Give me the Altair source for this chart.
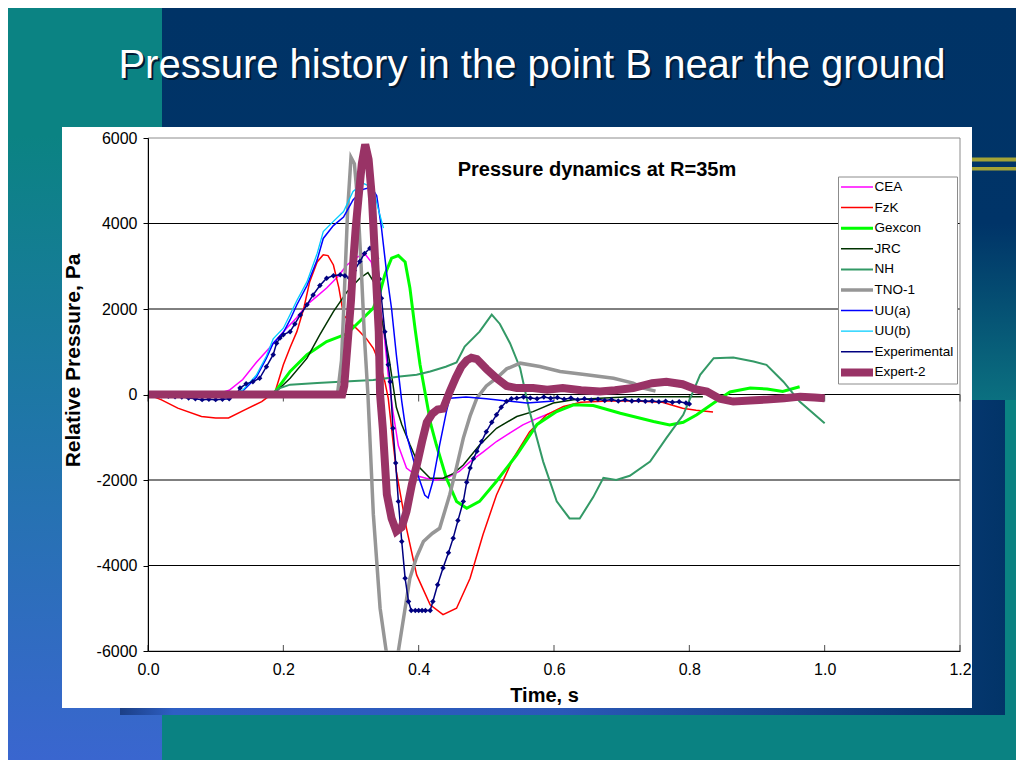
import altair as alt
import pandas as pd

# ---------------- layout constants (pixels, relative to plot origin) -------------
PLOT_W, PLOT_H = 812, 513
PAD = {"left": 140, "top": 130, "right": 56, "bottom": 109}
FONT = "Liberation Sans, Arial, Helvetica, sans-serif"

# ---------------- data ----------------
series_names = ["CEA", "FzK", "Gexcon", "JRC", "NH", "TNO-1", "UU(a)", "UU(b)",
                "Experimental", "Expert-2"]
series_colors = ["#ff00ff", "#ff0000", "#00ff00", "#003300", "#339966", "#969696",
                 "#0000ff", "#00ccff", "#000080", "#993366"]
series_widths = [1.5, 1.5, 3, 1.5, 2, 3.5, 1.5, 1.3, 1.5, 8]

x_ticks = [0.0, 0.2, 0.4, 0.6, 0.8, 1.0, 1.2]
y_ticks = [-6000, -4000, -2000, 0, 2000, 4000, 6000]
grid_values = [-4000, -2000, 0, 2000, 4000]

t_cea = [0.0, 0.10, 0.12, 0.14, 0.16, 0.18, 0.20, 0.22, 0.235, 0.25, 0.264, 0.28, 0.294, 0.308,
         0.32, 0.33, 0.34, 0.348, 0.355, 0.362, 0.37, 0.382, 0.397, 0.411, 0.426, 0.441, 0.46,
         0.476, 0.495, 0.515, 0.535, 0.554, 0.575, 0.594]
v_cea = [0, 0, 100, 350, 750, 1100, 1470, 1800, 2100, 2300, 2490, 2750, 3030, 3200,
         3300, 3100, 2400, 1550, 460, -400, -1200, -1720, -1900, -1960, -2000, -1960, -1800,
         -1570, -1350, -1100, -900, -710, -560, -440]

t_fzk = [0.0, 0.02, 0.044, 0.079, 0.10, 0.119, 0.143, 0.168, 0.178, 0.188,
         0.20, 0.21, 0.22, 0.23, 0.239, 0.25, 0.259, 0.266, 0.274, 0.282,
         0.289, 0.298, 0.313, 0.323, 0.333, 0.343, 0.35, 0.355, 0.367, 0.382,
         0.397, 0.417, 0.436, 0.456, 0.476, 0.495, 0.515, 0.54, 0.564, 0.589,
         0.614, 0.64, 0.68, 0.72, 0.76, 0.79, 0.81, 0.835]
v_fzk = [0, -125, -320, -515, -550, -550, -360, -165, -50, 70,
         695, 1100, 1470, 2000, 2640, 3100, 3270, 3250, 3030, 2500,
         1860, 1700, 1470, 1300, 1080, 695, 300, -85, -1800, -3130,
         -4220, -4920, -5150, -5000, -4300, -3280, -2350, -1490, -870, -475,
         -280, -180, -150, -150, -180, -320, -370, -410]

t_gex = [0.0, 0.185, 0.21, 0.235, 0.264, 0.294, 0.318, 0.333, 0.343, 0.35,
         0.36, 0.37, 0.38, 0.387, 0.395, 0.402, 0.41, 0.418, 0.426, 0.441,
         0.456, 0.471, 0.49, 0.515, 0.545, 0.575, 0.604, 0.629, 0.658, 0.698,
         0.747, 0.771, 0.791, 0.811, 0.836, 0.86, 0.89, 0.915, 0.938, 0.963]
v_gex = [0, 0, 540, 930, 1240, 1420, 1790, 2020, 2400, 2800,
         3190, 3250, 3100, 2500, 1500, 700, 0, -700, -1170, -1960,
         -2500, -2660, -2500, -2030, -1410, -700, -400, -240, -260, -440,
         -630, -710, -650, -475, -200, 60, 150, 130, 70, 180]

t_jrc = [0.0, 0.185, 0.21, 0.235, 0.254, 0.274, 0.294, 0.313, 0.325, 0.335,
         0.348, 0.357, 0.367, 0.375, 0.387, 0.402, 0.417, 0.436, 0.451, 0.466,
         0.49, 0.515, 0.545, 0.569, 0.599, 0.629, 0.668, 0.712, 0.76, 0.82]
v_jrc = [0, 0, 380, 850, 1400, 1940, 2400, 2720, 2850, 2600,
         1550, 770, -300, -700, -1170, -1720, -1960, -1960, -1850, -1650,
         -1180, -790, -515, -400, -200, -125, -85, -50, -50, -50]

t_nh = [0.0, 0.18, 0.195, 0.21, 0.25, 0.284, 0.333, 0.372, 0.397, 0.417,
        0.44, 0.456, 0.468, 0.49, 0.508, 0.52, 0.535, 0.55, 0.564, 0.584,
        0.604, 0.623, 0.638, 0.658, 0.673, 0.692, 0.712, 0.742, 0.766, 0.791,
        0.816, 0.836, 0.865, 0.895, 0.914, 0.939, 0.963, 1.0]
v_nh = [0, 0, 150, 230, 270, 300, 340, 420, 460, 540,
        650, 750, 1120, 1470, 1870, 1650, 1200, 615, -400, -1570,
        -2500, -2900, -2900, -2400, -1950, -2000, -1900, -1570, -1020, -475,
        460, 850, 865, 770, 695, 300, -165, -670]

t_tno = [0.0, 0.28, 0.286, 0.29, 0.295, 0.30, 0.305, 0.31, 0.315, 0.32,
         0.325, 0.333, 0.343, 0.352, 0.362, 0.37, 0.378, 0.387, 0.397, 0.407,
         0.42, 0.431, 0.446, 0.456, 0.466, 0.476, 0.486, 0.50, 0.515, 0.53,
         0.55, 0.579, 0.609, 0.648, 0.688, 0.717, 0.732, 0.75]
v_tno = [0, 0, 800, 2300, 4300, 5550, 5400, 4500, 3000, 1300,
         0, -2800, -5000, -6000, -6400, -6000, -5200, -4300, -3800, -3440,
         -3250, -3130, -2340, -1700, -1020, -500, -85, 200, 380, 600,
         733, 655, 540, 460, 380, 265, 150, 80]

t_uua = [0.0, 0.12, 0.14, 0.16, 0.175, 0.185, 0.20, 0.21, 0.22, 0.235,
         0.25, 0.259, 0.274, 0.289, 0.303, 0.318, 0.33, 0.338, 0.345, 0.353,
         0.36, 0.367, 0.375, 0.382, 0.397, 0.409, 0.414, 0.421, 0.431, 0.441,
         0.446, 0.47, 0.50, 0.53, 0.56, 0.60]
v_uua = [0, 0, 80, 400, 850, 1200, 1450, 1750, 2100, 2550,
         3150, 3650, 3950, 4150, 4550, 4800, 4850, 4650, 3900, 2800,
         2000, 930, -160, -940, -1800, -2350, -2420, -2030, -1180, -400,
         -85, -60, -100, -150, -200, -150]

t_uub = [0.0, 0.12, 0.14, 0.16, 0.175, 0.185, 0.20, 0.21, 0.22, 0.235,
         0.25, 0.259, 0.274, 0.289, 0.303, 0.318, 0.333, 0.34, 0.348]
v_uub = [0, 0, 100, 450, 900, 1300, 1550, 1870, 2200, 2640,
         3300, 3810, 4050, 4280, 4750, 4940, 4830, 4360, 3890]

t_exp = [0.0, 0.01, 0.02, 0.03, 0.04, 0.05, 0.06, 0.07, 0.08, 0.09,
         0.10, 0.11, 0.12, 0.13, 0.136, 0.145, 0.155, 0.165, 0.175, 0.185,
         0.19, 0.195, 0.20, 0.21, 0.217, 0.225, 0.235, 0.244, 0.254, 0.264,
         0.274, 0.284, 0.291, 0.298, 0.305, 0.313, 0.32, 0.328, 0.333, 0.338,
         0.342, 0.345, 0.35, 0.355, 0.358, 0.362, 0.366, 0.37, 0.375, 0.38,
         0.385, 0.389, 0.395, 0.40, 0.405, 0.41, 0.417, 0.421, 0.428, 0.436,
         0.444, 0.451, 0.458, 0.466, 0.471, 0.476, 0.481, 0.486, 0.493, 0.50,
         0.508, 0.515, 0.522, 0.53, 0.537, 0.545, 0.555, 0.565, 0.575, 0.585,
         0.595, 0.605, 0.615, 0.625, 0.635, 0.645, 0.655, 0.665, 0.675, 0.685,
         0.695, 0.705, 0.715, 0.725, 0.735, 0.745, 0.755, 0.765, 0.775, 0.785,
         0.795, 0.80]
v_exp = [0, -20, -30, -40, -50, -60, -80, -100, -120, -110,
         -120, -110, -100, -20, 150, 250, 300, 380, 650, 930,
         1200, 1320, 1400, 1470, 1650, 1860, 2100, 2330, 2550, 2720,
         2780, 2800, 2780, 2720, 2900, 3110, 3300, 3420, 3350, 3190,
         2700, 2250, 1470, 695, 300, -790, -1600, -2500, -3440, -4300,
         -4840, -5050, -5050, -5050, -5050, -5050, -5050, -4840, -4450, -4060,
         -3700, -3360, -2950, -2500, -2050, -1720, -1500, -1330, -1100, -870,
         -650, -475, -300, -160, -100, -85, -60, -80, -100, -60,
         -90, -70, -110, -80, -120, -100, -130, -110, -140, -120,
         -150, -130, -150, -140, -160, -150, -170, -160, -180, -170,
         -200, -220]

t_ex2 = [0.0, 0.10, 0.20, 0.287, 0.29, 0.295, 0.30, 0.303, 0.307, 0.311,
         0.316, 0.321, 0.326, 0.331, 0.336, 0.341, 0.343, 0.347, 0.353, 0.36,
         0.367, 0.375, 0.382, 0.39, 0.398, 0.405, 0.412, 0.42, 0.428, 0.436,
         0.446, 0.455, 0.463, 0.471, 0.478, 0.486, 0.50, 0.515, 0.53, 0.545,
         0.569, 0.59, 0.613, 0.64, 0.668, 0.69, 0.717, 0.745, 0.766, 0.79,
         0.81, 0.826, 0.845, 0.865, 0.89, 0.914, 0.94, 0.964, 0.985, 1.0]
v_ex2 = [0, 0, 0, 0, 200, 1200, 2200, 3030, 3900, 4590,
         5400, 5850, 5500, 4590, 3030, 1470, 0, -790, -2340, -2900,
         -3200, -3100, -2740, -2100, -1600, -1100, -650, -450, -350, -330,
         70, 400, 650, 800, 860, 830, 600, 380, 200, 150,
         150, 110, 150, 100, 70, 100, 150, 265, 300, 240,
         120, 70, -100, -165, -140, -120, -90, -50, -70, -85]

series_data = {
    "CEA": (t_cea, v_cea), "FzK": (t_fzk, v_fzk), "Gexcon": (t_gex, v_gex),
    "JRC": (t_jrc, v_jrc), "NH": (t_nh, v_nh), "TNO-1": (t_tno, v_tno),
    "UU(a)": (t_uua, v_uua), "UU(b)": (t_uub, v_uub),
    "Experimental": (t_exp, v_exp), "Expert-2": (t_ex2, v_ex2),
}

rows = []
for name in series_names:
    ts, vs = series_data[name]
    assert len(ts) == len(vs), name
    for t, v in zip(ts, vs):
        rows.append({"t": t, "p": v, "series": name})
df = pd.DataFrame(rows)
df_lines = df[df.series != "Expert-2"]
df_exp = df[df.series == "Experimental"]
df_ex2 = df[df.series == "Expert-2"]
one = pd.DataFrame({"k": [0]})

# ---------------- encodings ----------------
x_axis = alt.Axis(values=x_ticks, format=".1f", title="Time, s", grid=False, zindex=1,
                  domainColor="black", ticks=False, labelFlush=False,
                  labelFont=FONT, labelFontSize=16, labelColor="black", labelPadding=10,
                  titleFont=FONT, titleFontSize=20, titleFontWeight="bold", titleColor="black",
                  titleX=396, titleY=50, titleBaseline="alphabetic", titleAlign="center")
y_axis = alt.Axis(values=y_ticks, labelExpr="'' + datum.value", title="Relative Pressure, Pa",
                  grid=False, zindex=1, domainColor="black", tickColor="black", tickSize=5,
                  labelFont=FONT, labelFontSize=16, labelColor="black", labelPadding=6,
                  titleFont=FONT, titleFontSize=21, titleFontWeight="bold", titleColor="black",
                  titleAngle=270, titleX=-69, titleY=222, titleBaseline="alphabetic",
                  titleAlign="center")
X = alt.X("t:Q", scale=alt.Scale(domain=[0, 1.2], nice=False), axis=x_axis)
Y = alt.Y("p:Q", scale=alt.Scale(domain=[-6000, 6000], nice=False), axis=y_axis)

legend_def = alt.Legend(title=None, orient="none", legendX=690, legendY=38.5,
                        direction="vertical", padding=3, rowPadding=5.6, clipHeight=15,
                        symbolType="M-4,0H4", symbolSize=64, symbolOffset=8, labelOffset=9.5,
                        labelFont=FONT, labelFontSize=13.5, labelColor="black",
                        strokeColor="#8c8c8c", fillColor="white")
C = alt.Color("series:N", scale=alt.Scale(domain=series_names, range=series_colors),
              legend=legend_def)
SW = alt.StrokeWidth("series:N",
                     scale=alt.Scale(type="ordinal", domain=series_names, range=series_widths),
                     legend=legend_def)


def grad(stops, vertical=True):
    return alt.LinearGradient(
        gradient="linear",
        stops=[alt.GradientStop(offset=o, color=c) for o, c in stops],
        x1=0, y1=0, x2=0 if vertical else 1, y2=1 if vertical else 0)


def box(x, x2, y, y2, **mark):
    return alt.Chart(one).mark_rect(**mark).encode(
        x=alt.value(x), x2=alt.value(x2), y=alt.value(y), y2=alt.value(y2))


def label(text, x, y, **mark):
    return alt.Chart(one).mark_text(text=text, **mark).encode(x=alt.value(x), y=alt.value(y))


# ---------------- slide decorations ----------------
left_strip = box(-140, 14, -130, 622,
                 color=grad([(0, "#0b8383"), (0.17, "#0b8383"), (0.55, "#1f76a8"), (1, "#3a66cf")]))
navy_block = box(14, 868, -130, 262,
                 color=grad([(0, "#003366"), (0.55, "#003468"), (1, "#0b7080")]))
shadow_block = box(-28, 857, 262, 577,
                   color=grad([(0, "#1b3f86"), (0.06, "#2e5fc4"), (0.5, "#2a58b8"), (1, "#023468")],
                              vertical=False))
white_box = box(-86, 824, -11, 570, color="white")
plot_border = box(0, PLOT_W, 0, PLOT_H, filled=False, color="#8c8c8c", strokeWidth=1)
gold1 = alt.Chart(one).mark_rule(color="#a3a336", strokeWidth=4).encode(
    x=alt.value(824), x2=alt.value(868), y=alt.value(21.5))
gold2 = alt.Chart(one).mark_rule(color="#a3a336", strokeWidth=3.5).encode(
    x=alt.value(824), x2=alt.value(868), y=alt.value(30.7))

slide_title = "Pressure history in the point B near the ground"
title_shadow = label(slide_title, 386, -58, font=FONT, fontSize=40, color="#001a33",
                     align="center", baseline="alphabetic")
title_main = label(slide_title, 384, -60, font=FONT, fontSize=40, color="white",
                   align="center", baseline="alphabetic")
chart_title = label("Pressure dynamics at R=35m", 449, 38, font=FONT, fontSize=20,
                    fontWeight="bold", color="black", align="center", baseline="alphabetic")

# ---------------- plot layers ----------------
grid = alt.Chart(pd.DataFrame({"p": grid_values})).mark_rule(color="black", strokeWidth=1).encode(y=Y)
tick_df = pd.DataFrame({"t": x_ticks})
ticks_zero = alt.Chart(tick_df).mark_tick(orient="vertical", size=7, thickness=1, color="black",
                                          yOffset=3.5).encode(x=X, y=alt.YDatum(0))
ticks_bottom = alt.Chart(tick_df).mark_tick(orient="vertical", size=6, thickness=1, color="black",
                                            yOffset=-3).encode(x=X, y=alt.YDatum(-6000))
lines = alt.Chart(df_lines).mark_line(clip=True).encode(x=X, y=Y, color=C, strokeWidth=SW)
exp_pts = alt.Chart(df_exp).mark_point(shape="diamond", filled=True, size=30, opacity=1,
                                       color="#000080", clip=True).encode(x=X, y=Y)
expert2 = alt.Chart(df_ex2).mark_line(clip=True).encode(x=X, y=Y, color=C, strokeWidth=SW)
legend_diamond = alt.Chart(one).mark_point(shape="diamond", filled=True, size=30, opacity=1,
                                           color="#000080").encode(x=alt.value(709), y=alt.value(213.8))

chart = alt.layer(
    left_strip, navy_block, shadow_block, white_box, gold1, gold2,
    title_shadow, title_main,
    grid, plot_border, ticks_zero, ticks_bottom, lines, exp_pts, expert2, chart_title,
    legend_diamond,
).properties(
    width=PLOT_W, height=PLOT_H, padding=PAD,
    autosize=alt.AutoSizeParams(type="none"), background="#0a8282",
).configure_view(stroke=None)

chart.save("out.html", embed_options={"renderer": "svg", "actions": False})
